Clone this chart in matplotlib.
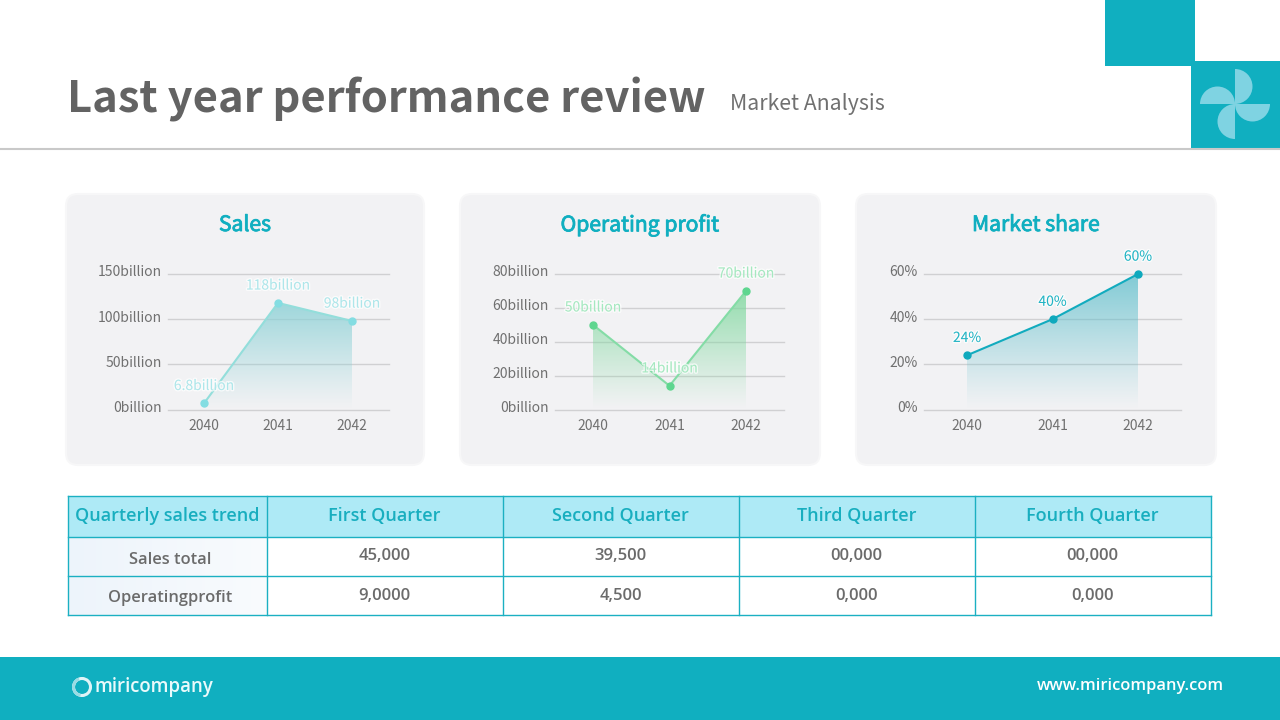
import numpy as np
import matplotlib
matplotlib.use("Agg")
import matplotlib.pyplot as plt
import matplotlib.patheffects as pe
from matplotlib.patches import Rectangle, FancyBboxPatch, Wedge, Circle
from matplotlib.transforms import ScaledTranslation

CJK = ["Noto Sans CJK KR", "DejaVu Sans"]
OPEN = ["Open Sans", "DejaVu Sans"]
plt.rcParams["font.family"] = CJK

# chart data
years = ["2040", "2041", "2042"]
sales = [6.8, 118, 98]
sales_labels = ["6.8billion", "118billion", "98billion"]
sales_ticks = [0, 50, 100, 150]
sales_ticklabels = ["0billion", "50billion", "100billion", "150billion"]
profit = [50, 14, 70]
profit_labels = ["50billion", "14billion", "70billion"]
profit_ticks = [0, 20, 40, 60, 80]
profit_ticklabels = ["0billion", "20billion", "40billion", "60billion", "80billion"]
share = [24, 40, 60]
share_labels = ["24%", "40%", "60%"]
share_ticks = [0, 20, 40, 60]
share_ticklabels = ["0%", "20%", "40%", "60%"]

# table data
table_header = ["Quarterly sales trend", "First Quarter", "Second Quarter", "Third Quarter", "Fourth Quarter"]
row_sales = ["Sales total", "45,000", "39,500", "00,000", "00,000"]
row_profit = ["Operatingprofit", "9,0000", "4,500", "0,000", "0,000"]

TEAL = "#10afc0"
GRAY = "#6b6b6b"
W, H = 1280, 720

fig = plt.figure(figsize=(12.8, 7.2), dpi=100, facecolor="white")
bg = fig.add_axes([0, 0, 1, 1])
bg.set_xlim(0, W)
bg.set_ylim(H, 0)
bg.axis("off")


def draw_header():
    bg.text(67, 99, "Last year performance review", fontsize=31.3, fontweight="bold",
            color="#636363", va="center", ha="left")
    bg.text(730, 104, "Market Analysis", fontsize=15.3, color="#707070", va="center", ha="left")
    bg.plot([0, W], [149, 149], color="#c9c9c9", lw=1.5)
    bg.add_patch(Rectangle((1105, 0), 90, 66, color=TEAL, lw=0))
    bg.add_patch(Rectangle((1191, 61), 89, 88, color=TEAL, lw=0))
    # pinwheel logo
    blade = "#7fd3e2"
    bg.add_patch(Wedge((1235, 86.5), 17.5, -90, 90, color=blade, lw=0))
    bg.add_patch(Wedge((1217.5, 104), 17.5, 180, 360, color=blade, lw=0))
    bg.add_patch(Wedge((1235, 121.5), 17.5, 90, 270, color=blade, lw=0))
    bg.add_patch(Wedge((1252.5, 104), 17.5, 0, 180, color=blade, lw=0))


def draw_card(x0, x1, title):
    bg.add_patch(FancyBboxPatch((x0 + 12, 206), x1 - x0 - 24, 247,
                                boxstyle="round,pad=12,rounding_size=12",
                                fc="#f2f2f4", ec="#f7f7f8", lw=1.5))
    # thin stroke thickens the regular face, bold runs too wide here
    bg.text((x0 + x1) / 2, 225, title, fontsize=15.2, fontweight="medium", color=TEAL,
            ha="center", va="center",
            path_effects=[pe.withStroke(linewidth=0.6, foreground=TEAL)])


def draw_chart(left, right, first, step, values, labels, ticks, ticklabels,
               line_color, marker_color, label_color, fill_rgb, top_alpha):
    top, bottom = 274, 409.5
    ax = fig.add_axes([left / W, 1 - bottom / H, (right - left) / W, (bottom - top) / H])
    ax.patch.set_alpha(0)
    xs = np.arange(len(values))

    # gradient under the line, clipped to the area shape
    area = ax.fill_between(xs, values, 0, color="none", lw=0)
    rgba = np.zeros((256, 1, 4))
    rgba[:, :, :3] = fill_rgb
    rgba[:, 0, 3] = np.linspace(top_alpha, 0, 256) ** 1.1
    im = ax.imshow(rgba, extent=[0, 2, 0, max(values)], aspect="auto", zorder=2)
    im.set_clip_path(area.get_paths()[0], transform=ax.transData)

    ax.plot(xs, values, color=line_color, lw=1.5, zorder=3, clip_on=False)
    ax.plot(xs, values, "o", color=marker_color, ms=5, zorder=4, clip_on=False)
    for x, v, lab in zip(xs, values, labels):
        ax.annotate(lab, (x, v), xytext=(0, 12.5), textcoords="offset points", ha="center",
                    va="center", fontsize=10, color=label_color, zorder=5,
                    path_effects=[pe.withStroke(linewidth=2, foreground="white", alpha=0.7)])

    ax.set_xlim((left - first) / step, (right - first) / step)
    ax.set_ylim(0, ticks[-1])
    ax.set_xticks(xs, years)
    ax.set_yticks(ticks, ticklabels)
    ax.tick_params(length=0, labelsize=10, labelcolor="#707070")
    ax.tick_params(axis="x", pad=6.5)
    ax.tick_params(axis="y", pad=4.5)
    # the y labels sit a little above their grid lines
    lift = ScaledTranslation(0, 3 / 100, fig.dpi_scale_trans)
    for lab in ax.get_yticklabels():
        lab.set_transform(lab.get_transform() + lift)
    ax.grid(axis="y", color="#d0d0d2", lw=1, clip_on=False)
    ax.set_axisbelow(True)
    for s in ax.spines.values():
        s.set_visible(False)


def draw_table():
    xs = [68, 267, 503, 739, 975, 1211]
    ys = [496, 537, 576, 615]
    rows = [row_sales, row_profit]
    border = "#1bb0c2"
    bg.add_patch(Rectangle((xs[0], ys[0]), xs[-1] - xs[0], ys[1] - ys[0], fc="#aeeaf6", lw=0))
    # pale gradient behind the row names
    shade = np.ones((1, 64, 4))
    shade[:, :, :3] = [0.93, 0.96, 0.985]
    shade[0, :, 3] = np.linspace(1, 0.35, 64)
    bg.imshow(shade, extent=[xs[0], xs[1], ys[3], ys[1]], aspect="auto", zorder=1)
    bg.set_xlim(0, W)
    bg.set_ylim(H, 0)
    for x in xs:
        bg.plot([x, x], [ys[0], ys[-1]], color=border, lw=1, zorder=2)
    for y in ys:
        bg.plot([xs[0], xs[-1]], [y, y], color=border, lw=1, zorder=2)
    for i, txt in enumerate(table_header):
        bg.text((xs[i] + xs[i + 1]) / 2 - 0.5, 516, txt, fontsize=13, fontweight="semibold",
                family=OPEN, color="#18aebf", ha="center", va="center", zorder=3)
    for r, row in enumerate(rows):
        for i, txt in enumerate(row):
            cx = (xs[i] + xs[i + 1]) / 2 + (2.5 if i == 0 else -0.5)
            dy = 4 if i == 0 else 1
            bg.text(cx, (ys[r + 1] + ys[r + 2]) / 2 - 1 + dy, txt,
                    fontsize=11.9 if i == 0 else 12, fontweight="semibold", color=GRAY,
                    family=OPEN, ha="center", va="center", zorder=3)


def draw_footer():
    bg.add_patch(Rectangle((0, 657), W, 63, color=TEAL, lw=0))
    bg.add_patch(Circle((82, 687), 8.5, fc="none", ec="#dff4f7", lw=2.2))
    bg.add_patch(Wedge((82, 687), 10, 100, 250, width=3, color="#9adbe4", lw=0))
    bg.text(94, 687, "miricompany", fontsize=13.4, fontweight="semibold", color="#eafafb",
            family=OPEN, ha="left", va="center")
    bg.text(1224, 686, "www.miricompany.com", fontsize=11.75, fontweight="semibold", color="white",
            family=OPEN, ha="right", va="center")


draw_header()
draw_card(66, 424, "Sales")
draw_card(460, 820, "Operating profit")
draw_card(856, 1216, "Market share")
draw_chart(168, 389, 204, 74, sales, sales_labels, sales_ticks, sales_ticklabels,
           "#93dedb", "#84dde2", "#aee6ea", (0.55, 0.82, 0.84), 0.85)
draw_chart(555, 784, 593, 76.5, profit, profit_labels, profit_ticks, profit_ticklabels,
           "#84dca6", "#5ed68f", "#a5e8c0", (0.50, 0.85, 0.62), 0.85)
draw_chart(924, 1181, 967, 85.5, share, share_labels, share_ticks, share_ticklabels,
           "#12abbe", "#0fa9bd", "#22b4c4", (0.38, 0.75, 0.80), 0.8)
draw_table()
draw_footer()

fig.savefig("out.png", dpi=100)
